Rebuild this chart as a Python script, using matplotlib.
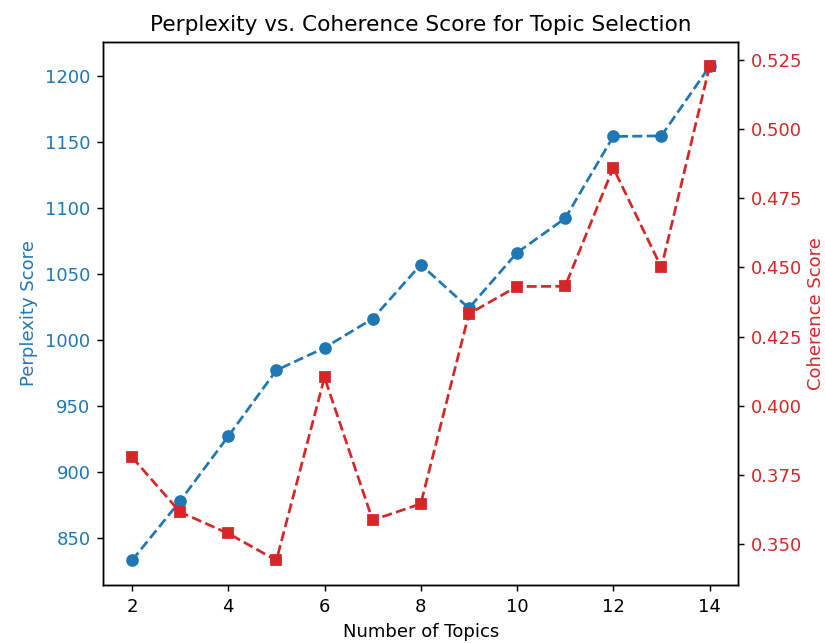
import matplotlib
matplotlib.use("Agg")
import matplotlib.pyplot as plt

# Number of topics tried
topics = [2, 3, 4, 5, 6, 7, 8, 9, 10, 11, 12, 13, 14]

# Perplexity per topic count
perplexity = [833, 878, 927, 977, 994, 1016, 1057, 1024, 1066, 1092, 1154, 1154.5, 1207]

# Coherence per topic count
coherence = [0.3813, 0.3614, 0.3537, 0.3439, 0.4102, 0.3585, 0.3644,
             0.4332, 0.4431, 0.4432, 0.4861, 0.4500, 0.5228]

fig, ax1 = plt.subplots(figsize=(825 / 130, 643 / 130), dpi=130)
fig.subplots_adjust(left=0.125, right=0.895, top=0.935, bottom=0.09)

# left axis: perplexity
ax1.plot(topics, perplexity, marker='o', linestyle='--', color='tab:blue')
ax1.set_xlabel('Number of Topics')
ax1.set_ylabel('Perplexity Score', color='tab:blue')
ax1.tick_params(axis='y', labelcolor='tab:blue')

# right axis: coherence
ax2 = ax1.twinx()
ax2.plot(topics, coherence, marker='s', linestyle='--', color='tab:red')
ax2.set_ylabel('Coherence Score', color='tab:red', labelpad=2.5)
ax2.tick_params(axis='y', labelcolor='tab:red')

plt.title('Perplexity vs. Coherence Score for Topic Selection')
fig.savefig('out.png', dpi=130)
